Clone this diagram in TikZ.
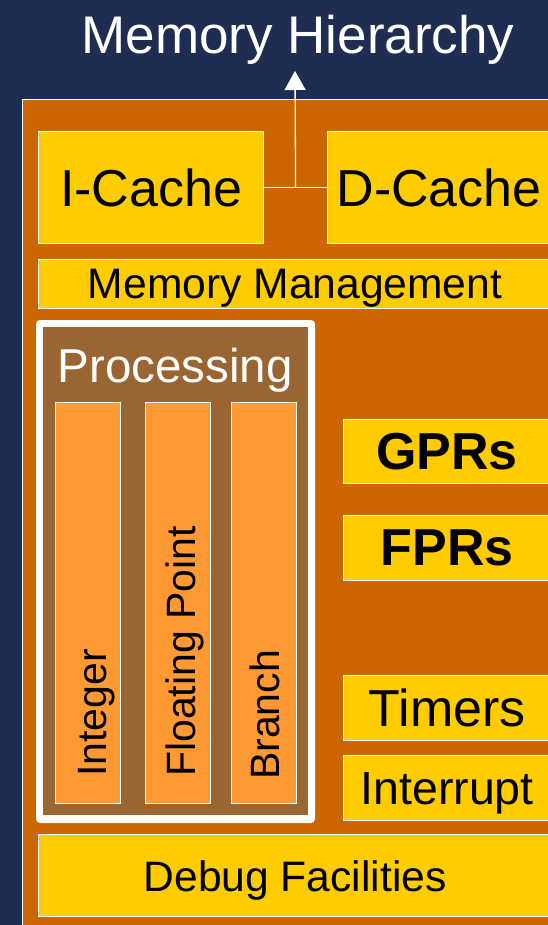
\documentclass[tikz,border=0pt]{standalone}
\usepackage{fontspec}
\setmainfont{Liberation Sans}
\usetikzlibrary{arrows.meta,calc}
\definecolor{navybg}{HTML}{1F2D52}
\definecolor{chiporange}{HTML}{CC6600}
\definecolor{unityellow}{HTML}{FFCC00}
\definecolor{procbrown}{HTML}{996633}
\definecolor{execorange}{HTML}{FF9933}
\tikzset{
  unitbox/.style={draw=white, fill=unityellow, line width=1.2pt, inner sep=0pt,
    anchor=north west, text=black, text depth=0pt},
  execbox/.style={draw=white, fill=execorange, line width=1.2pt, inner sep=0pt,
    anchor=north west},
  vlabel/.style={rotate=90, anchor=base west, inner sep=0pt, text=black,
    font=\fontsize{41}{48}\selectfont},
  big/.style={font=\fontsize{52}{60}\selectfont},
  mid/.style={font=\fontsize{42.6}{50}\selectfont},
  link/.style={draw=white, line width=1.3pt}
}
\begin{document}
\begin{tikzpicture}[x=1pt,y=-1pt]
\useasboundingbox (0,0) rectangle (548,925);
\clip (0,0) rectangle (548,925);
% background and chip outline
\fill[navybg] (0,0) rectangle (548,925);
\draw[white, fill=chiporange, line width=1.2pt] (22.5,99.5) rectangle (580,945);

% title
\node[font=\fontsize{53}{60}\selectfont, text=white, anchor=base, inner sep=0pt] (mh) at (298,54) {Memory Hierarchy};
\coordinate (mhin) at (295,71);

% caches
\node[unitbox, big, minimum width=225pt, minimum height=112pt] (ic) at (38,131) {I-Cache};
\node[unitbox, big, minimum width=223pt, minimum height=112pt] (dc) at (327,131) {D-Cache};

% memory management
\node[unitbox, mid, minimum width=513pt, minimum height=49pt] (mm) at (38,259) {Memory Management};

% processing block
\fill[white, rounded corners=4pt] (36,320) rectangle (315,823);
\fill[procbrown] (43,327) rectangle (308,815);
\node[text=white, anchor=base, inner sep=0pt, font=\fontsize{47.5}{54}\selectfont] (proc) at (175,382) {Processing};
\node[execbox, minimum width=65pt, minimum height=401pt] (int) at (55,402) {};
\node[execbox, minimum width=65pt, minimum height=401pt] (fp) at (145,402) {};
\node[execbox, minimum width=65pt, minimum height=401pt] (br) at (231,402) {};
\node[vlabel] (intl) at (106,777) {Integer};
\node[vlabel] (fpl) at (195,777) {Floating Point};
\node[vlabel] (brl) at (279,780) {Branch};

% registers and peripherals
\node[unitbox, font=\bfseries\fontsize{52}{60}\selectfont, minimum width=207pt, minimum height=64pt] (gpr) at (343,419) {GPRs};
\node[unitbox, font=\bfseries\fontsize{52}{60}\selectfont, minimum width=207pt, minimum height=65pt] (fpr) at (343,515) {FPRs};
\node[unitbox, big, minimum width=207pt, minimum height=65pt] (tim) at (343,675) {Timers};
\node[unitbox, font=\fontsize{46.5}{54}\selectfont, minimum width=207pt, minimum height=65pt] (irq) at (343,755) {Interrupt};

% debug
\node[unitbox, mid, minimum width=513pt, minimum height=82pt] (dbg) at (38,834) {Debug Facilities};

% cache connection to the memory hierarchy
\coordinate (cj) at ($(ic.east)!0.5!(dc.west)$);
\draw[link] (ic.east) -- (dc.west);
\draw[link, -{Triangle[width=21pt,length=19pt]}] (cj) -- (mhin);
\end{tikzpicture}
\end{document}
